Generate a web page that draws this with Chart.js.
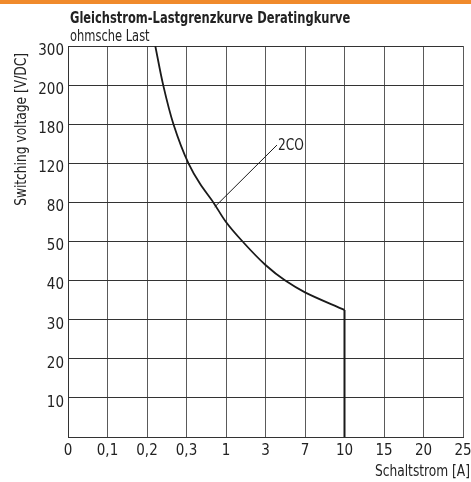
<!DOCTYPE html>
<html>
<head>
<meta charset="utf-8">
<title>Gleichstrom-Lastgrenzkurve</title>
<script src="https://cdn.jsdelivr.net/npm/chart.js@4.4.1/dist/chart.umd.min.js"></script>
<style>
  html, body { margin: 0; padding: 0; background: #fff; }
  #wrap { position: relative; width: 471px; height: 482px; }
  canvas { display: block; }
</style>
</head>
<body>
<div id="wrap"><canvas id="deratingChart" width="471" height="482"></canvas></div>
<script>
// Axis tick values - evenly spaced on the grid, not linear
const currentTicks = [0, 0.1, 0.2, 0.3, 1, 3, 7, 10, 15, 20, 25];
const voltageTicks = [0, 10, 20, 30, 40, 50, 80, 120, 180, 200, 300];
const currentLabels = ['0', '0,1', '0,2', '0,3', '1', '3', '7', '10', '15', '20', '25'];
const voltageLabels = ['', '10', '20', '30', '40', '50', '80', '120', '180', '200', '300'];

// DC load limit curve 2CO, ohmic load: current [A] / voltage [V]
const curveCurrent = [0.221, 0.241, 0.267, 0.335, 0.54, 0.776, 1.0, 1.84, 3.0, 5.0, 7.0, 10];
const curveVoltage = [300, 200, 180, 120, 99, 80, 65, 50, 44, 40, 37, 32.5];

// cut-off at max. switching current
const limitCurrent = [10, 10];
const limitVoltage = [32.5, 0];

// leader line from the curve name to the curve
const leaderCurrent = [4.16, 0.8];
const leaderVoltage = [148, 76.5];
const curveName = '2CO';

const titleText = 'Gleichstrom-Lastgrenzkurve Deratingkurve';
const subtitleText = 'ohmsche Last';
const xTitle = 'Schaltstrom [A]';
const yTitle = 'Switching voltage [V/DC]';

const FONT = "'DejaVu Sans Condensed', 'Liberation Sans Narrow', sans-serif";
const INK = '#222';
const NARROW = 0.85; // squeeze text horizontally, the print font is condensed

// maps a real value onto the evenly spaced grid (tick i sits at position i)
function toGrid(v, ticks) {
    for (let i = 1; i < ticks.length; i++) {
        if (v <= ticks[i]) return i - 1 + (v - ticks[i - 1]) / (ticks[i] - ticks[i - 1]);
    }
    return ticks.length - 1;
}

function points(xs, ys) {
    return xs.map((x, i) => ({ x: toGrid(x, currentTicks), y: toGrid(ys[i], voltageTicks) }));
}

function narrowText(ctx, text, x, y, align, angle = 0) {
    ctx.save();
    ctx.translate(x, y);
    ctx.rotate(angle);
    ctx.scale(NARROW, 1);
    ctx.textAlign = align;
    ctx.fillText(text, 0, 0);
    ctx.restore();
}

const headerPlugin = {
    id: 'header',
    beforeDraw(chart) {
        const { ctx } = chart;
        ctx.save();
        ctx.fillStyle = '#f08a2c';
        ctx.fillRect(0, 0, chart.width, 4);

        ctx.fillStyle = INK;
        ctx.textBaseline = 'middle';
        ctx.font = `bold 15px ${FONT}`;
        narrowText(ctx, titleText, 70, 19, 'left');
        ctx.font = `15px ${FONT}`;
        narrowText(ctx, subtitleText, 70, 37, 'left');

        ctx.font = `16px ${FONT}`;
        narrowText(ctx, xTitle, 470, 472, 'right');
        narrowText(ctx, yTitle, 22, 53, 'right', -Math.PI / 2);
        ctx.restore();
    },
    afterDatasetsDraw(chart) {
        const { ctx, scales } = chart;
        const px = scales.x.getPixelForValue(toGrid(leaderCurrent[0], currentTicks));
        const py = scales.y.getPixelForValue(toGrid(leaderVoltage[0], voltageTicks));
        ctx.save();
        ctx.fillStyle = INK;
        ctx.font = `16px ${FONT}`;
        ctx.textBaseline = 'middle';
        narrowText(ctx, curveName, px + 1, py + 1, 'left');
        ctx.restore();
    }
};

const lineStyle = { borderColor: '#1a1a1a', pointRadius: 0, fill: false };

new Chart(document.getElementById('deratingChart'), {
    type: 'line',
    data: {
        datasets: [
            // curve is smoothed as current over voltage, it is steep near the top
            { ...lineStyle, data: points(curveCurrent, curveVoltage), borderWidth: 1.8,
              indexAxis: 'y', cubicInterpolationMode: 'monotone' },
            { ...lineStyle, data: points(limitCurrent, limitVoltage), borderWidth: 2 },
            { ...lineStyle, data: points(leaderCurrent, leaderVoltage), borderWidth: 1 }
        ]
    },
    options: {
        responsive: false,
        animation: false,
        devicePixelRatio: 1,
        layout: { padding: { top: 46, right: 8, left: 0, bottom: 0 } },
        plugins: { legend: { display: false }, tooltip: { enabled: false }, title: { display: false } },
        scales: {
            x: {
                type: 'linear',
                min: 0,
                max: currentTicks.length - 1,
                afterBuildTicks: s => { s.ticks = currentTicks.map((_, i) => ({ value: i })); },
                afterFit: s => { s.height = 45; s.paddingLeft = 0; s.paddingRight = 0; },
                grid: { color: '#5a5a5a', lineWidth: 1, drawTicks: false },
                border: { color: '#333', width: 1 },
                ticks: {
                    autoSkip: false, maxRotation: 0, padding: 5, color: INK,
                    font: { family: FONT, size: 15 },
                    callback: (v, i) => currentLabels[i]
                }
            },
            y: {
                type: 'linear',
                min: 0,
                max: voltageTicks.length - 1,
                afterBuildTicks: s => { s.ticks = voltageTicks.map((_, i) => ({ value: i })); },
                afterFit: s => { s.width = 68; s.paddingTop = 0; s.paddingBottom = 0; },
                grid: { color: '#333', lineWidth: 1, drawTicks: false },
                border: { color: '#333', width: 1 },
                ticks: {
                    autoSkip: false, padding: 4, color: INK, labelOffset: 5,
                    font: { family: FONT, size: 15 },
                    callback: (v, i) => voltageLabels[i]
                }
            }
        }
    },
    plugins: [headerPlugin]
});
</script>
</body>
</html>
